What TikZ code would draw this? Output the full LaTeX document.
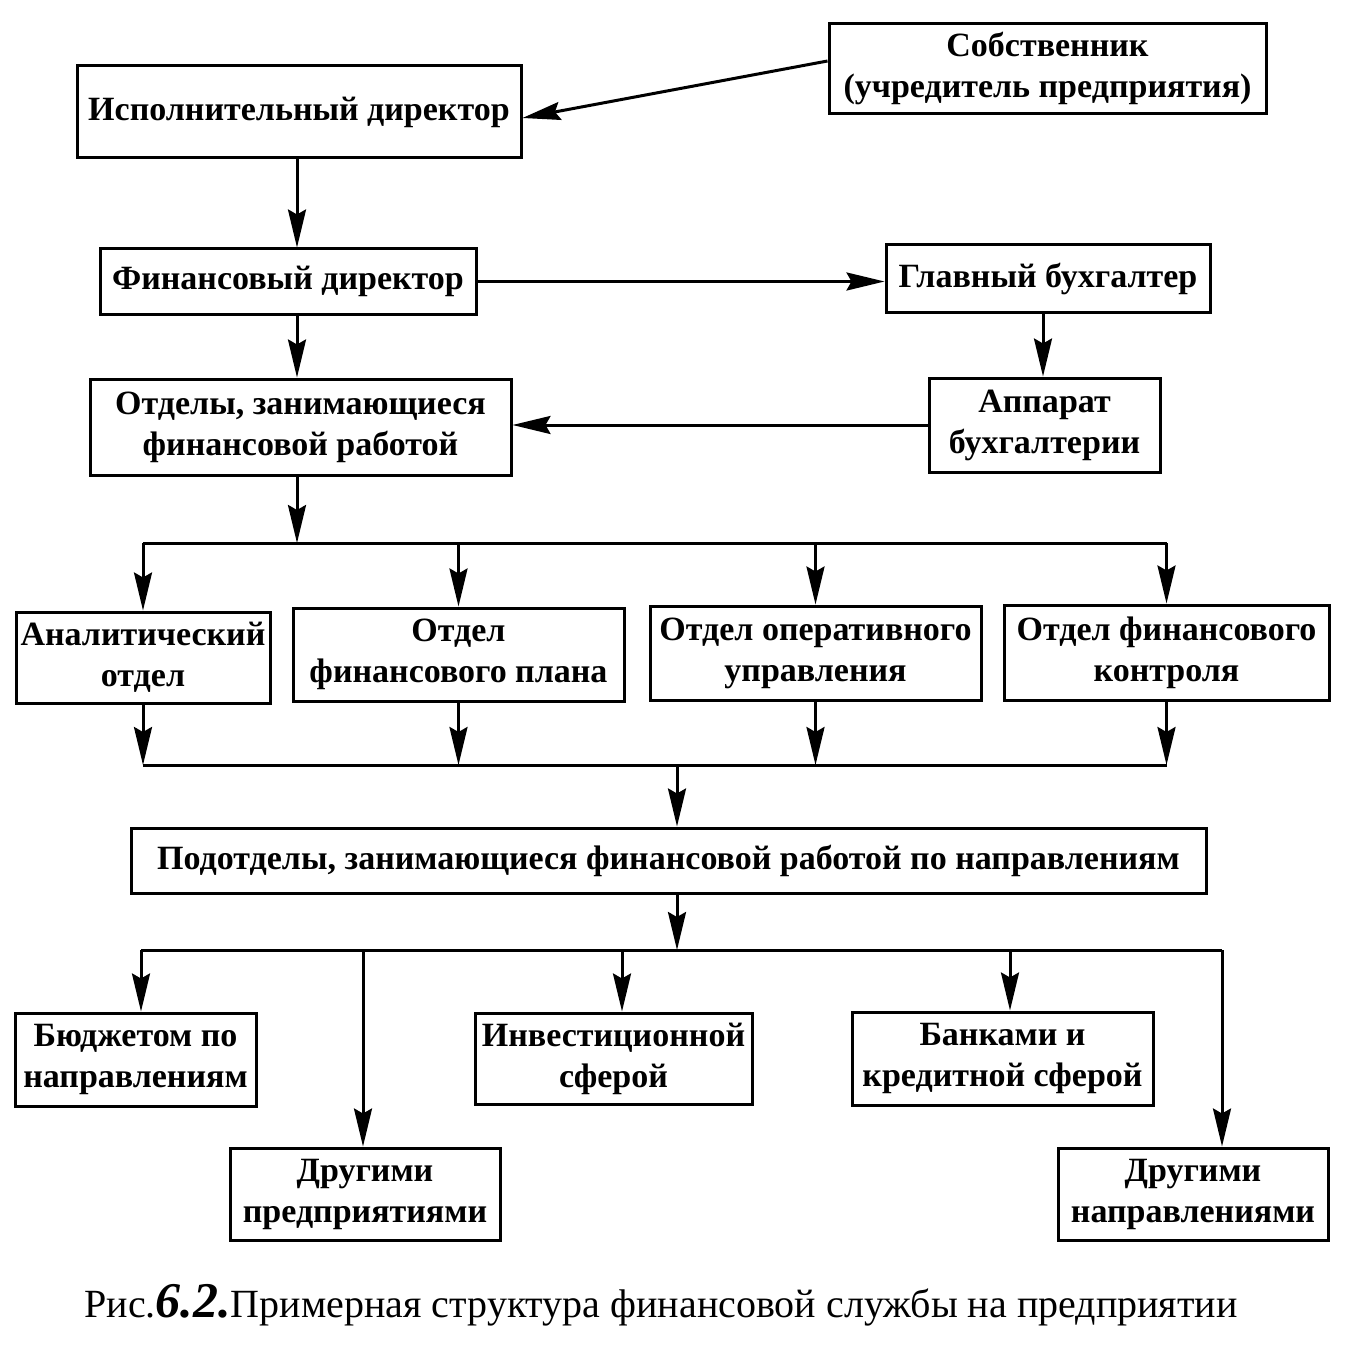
\documentclass[tikz,border=0pt]{standalone}
\usepackage{fontspec}
\setmainfont{Liberation Serif}
\usetikzlibrary{arrows.meta,calc}
\begin{document}
\begin{tikzpicture}[x=1pt,y=-1pt,
  box/.style={draw,line width=3pt,rectangle,align=center,inner sep=0pt,font=\bfseries\fontsize{34}{41}\selectfont},
  arr/.style={line width=3pt,-{Stealth[length=38pt,width=18pt,inset=5pt]}},
  ln/.style={line width=3pt}]
\useasboundingbox[fill=white] (0,0) rectangle (1344,1356);
% boxes
\node[box,minimum width=444pt,minimum height=92pt] (exec) at (299,112) {Исполнительный директор};
\node[box,minimum width=437pt,minimum height=90pt] (owner) at (1047.5,69) {Собственник\\(учредитель предприятия)};
\node[box,minimum width=376pt,minimum height=65pt] (fin) at (288,281.5) {Финансовый директор};
\node[box,minimum width=324pt,minimum height=67pt] (chief) at (1048,278.5) {Главный бухгалтер};
\node[box,minimum width=421pt,minimum height=96pt] (depts) at (300.5,427) {Отделы, занимающиеся\\финансовой работой};
\node[box,minimum width=231pt,minimum height=94pt] (app) at (1044.5,425) {Аппарат\\бухгалтерии};
\node[box,minimum width=254pt,minimum height=91pt] (anal) at (143,657.5) {Аналитический\\отдел};
\node[box,minimum width=331pt,minimum height=93pt] (plan) at (458.5,654.5) {Отдел\\финансового плана};
\node[box,minimum width=331pt,minimum height=94pt] (oper) at (815.5,653) {Отдел оперативного\\управления};
\node[box,minimum width=325pt,minimum height=95pt] (ctrl) at (1166.5,652.5) {Отдел финансового\\контроля};
\node[box,minimum width=1075pt,minimum height=65pt] (sub) at (668.5,860.5) {Подотделы, занимающиеся финансовой работой по направлениям};
\node[box,minimum width=241pt,minimum height=93pt] (budget) at (135.5,1059.5) {Бюджетом по\\направлениям};
\node[box,minimum width=277pt,minimum height=91pt] (invest) at (613.5,1058.5) {Инвестиционной\\сферой};
\node[box,minimum width=301pt,minimum height=93pt] (banks) at (1002.5,1058.5) {Банками и\\кредитной сферой};
\node[box,minimum width=270pt,minimum height=92pt] (otherent) at (365,1194) {Другими\\предприятиями};
\node[box,minimum width=270pt,minimum height=92pt] (otherdir) at (1193,1194) {Другими\\направлениями};
% caption
\node[font=\fontsize{40}{44}\selectfont] (cap) at (661,1305) {Рис.{\bfseries\itshape\fontsize{50}{50}\selectfont 6.2.}Примерная структура финансовой службы на предприятии};
% bus coordinates
\coordinate (b1) at (297,543);
\coordinate (b2) at (677,765);
\coordinate (b3) at (677,950);
\coordinate (d1) at (141,950);
\coordinate (d2) at (363,950);
\coordinate (d3) at (622,950);
\coordinate (d4) at (1010,950);
\coordinate (d5) at (1222,950);
% top connectors
\draw[arr] ($(owner.west)+(0,-8)$) -- ($(exec.east)+(0,6)$);
\draw[arr] (exec.south -| b1) -- (fin.north -| b1);
\draw[arr] (fin.east) -- (fin.east -| chief.west);
\draw[arr] (fin.south -| b1) -- (depts.north -| b1);
\draw[arr] (chief.south -| 1043,0) -- (app.north -| 1043,0);
\draw[arr] (app.west) -- (app.west -| depts.east);
% first bus
\draw[arr] (depts.south -| b1) -- (b1);
\draw[ln] (anal.north |- b1) -- (ctrl.north |- b1);
\foreach \n in {anal,plan,oper,ctrl}{
  \draw[arr] (\n.north |- b1) -- (\n.north);
  \draw[arr] (\n.south) -- (\n.south |- b2);
}
% second bus
\draw[ln] (anal.south |- b2) -- (ctrl.south |- b2);
\draw[arr] (b2) -- (b2 |- sub.north);
% third bus
\draw[arr] (sub.south -| b3) -- (b3);
\draw[ln] (d1) -- (d5);
\draw[arr] (d1) -- (d1 |- budget.north);
\draw[arr] (d2) -- (d2 |- otherent.north);
\draw[arr] (d3) -- (d3 |- invest.north);
\draw[arr] (d4) -- (d4 |- banks.north);
\draw[arr] (d5) -- (d5 |- otherdir.north);
\end{tikzpicture}
\end{document}
